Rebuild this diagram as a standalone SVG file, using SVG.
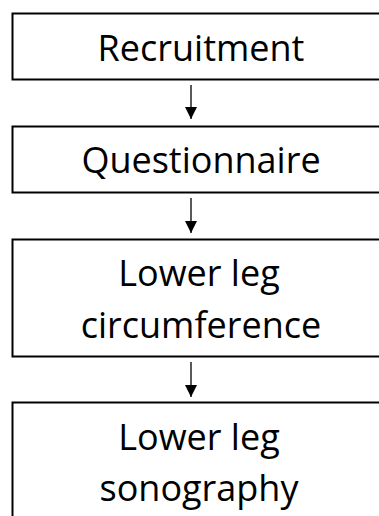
<svg xmlns="http://www.w3.org/2000/svg" width="379" height="516" viewBox="0 0 379 516">
<style>
.box{fill:#fff;stroke:#000;stroke-width:2}
.lbl{font-family:"Open Sans","Noto Sans",sans-serif;font-size:36px;fill:#000;text-anchor:middle}
.edge{stroke:#000;stroke-width:1.3;fill:none}
</style>
<defs>
<marker id="ah" markerUnits="userSpaceOnUse" markerWidth="12" markerHeight="13" refX="12" refY="6" orient="auto" viewBox="0 0 12 12">
<path d="M0,0 L12,6 L0,12 Z" fill="#000"/>
</marker>
</defs>
<rect width="379" height="516" fill="#fff"/>
<g id="connectors">
<line class="edge" x1="191" y1="85" x2="191" y2="119" marker-end="url(#ah)"/>
<line class="edge" x1="191" y1="198" x2="191" y2="233" marker-end="url(#ah)"/>
<line class="edge" x1="191" y1="362" x2="191" y2="397" marker-end="url(#ah)"/>
</g>
<g id="recruitment">
<rect class="box" x="12.5" y="13.5" width="380" height="66"/>
<text class="lbl" x="201" y="61">Recruitment</text>
</g>
<g id="questionnaire">
<rect class="box" x="12.5" y="126.5" width="380" height="66"/>
<text class="lbl" x="201" y="173">Questionnaire</text>
</g>
<g id="circumference">
<rect class="box" x="12.5" y="239.5" width="380" height="117"/>
<text class="lbl" x="199" y="286">Lower leg</text>
<text class="lbl" x="201" y="338">circumference</text>
</g>
<g id="sonography">
<rect class="box" x="12.5" y="402.5" width="380" height="130"/>
<text class="lbl" x="199" y="450">Lower leg</text>
<text class="lbl" x="199" y="501">sonography</text>
</g>
</svg>
